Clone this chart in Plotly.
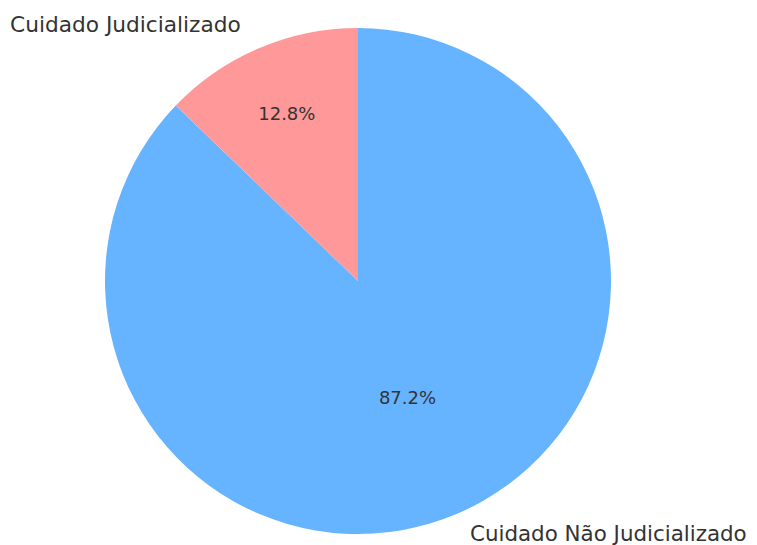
import plotly.graph_objects as go

labels = ["Cuidado Judicializado", "Cuidado Não Judicializado"]
values = [12.8, 87.2]
colors = ["#ff9999", "#66b3ff"]

W, H = 757, 545
OFF = 8  # page body margin offset

top_px, bot_px = 28 - OFF, 534 - OFF
cx = 358 - OFF
d = bot_px - top_px

# drawn clockwise from 12 o'clock in reverse order so the small slice sits upper-left
fig = go.Figure(go.Pie(
    labels=labels[::-1],
    values=values[::-1],
    sort=False,
    direction="clockwise",
    rotation=0,
    marker=dict(colors=colors[::-1], line=dict(width=0)),
    textinfo="percent",
    texttemplate="%{percent:.1%}",
    textposition="inside",
    insidetextorientation="horizontal",
    textfont=dict(family="DejaVu Sans", size=18, color="#333333"),
    showlegend=False,
    hoverinfo="label+percent",
    domain=dict(x=[(cx - d / 2) / W, (cx + d / 2) / W], y=[1 - bot_px / H, 1 - top_px / H]),
))

fig.add_annotation(text=labels[0], x=0, y=1 - (25 - OFF) / H, xref="paper", yref="paper",
                   xanchor="left", yanchor="middle", showarrow=False,
                   font=dict(family="DejaVu Sans", size=21.7, color="#333333"))
fig.add_annotation(text=labels[1], x=(749 - OFF) / W, y=1 - (533 - OFF) / H, xref="paper", yref="paper",
                   xanchor="right", yanchor="middle", showarrow=False,
                   font=dict(family="DejaVu Sans", size=21.4, color="#333333"))

fig.update_layout(
    width=W, height=H,
    margin=dict(l=0, r=0, t=0, b=0),
    paper_bgcolor="white",
    plot_bgcolor="white",
)

fig.write_html("out.html")
